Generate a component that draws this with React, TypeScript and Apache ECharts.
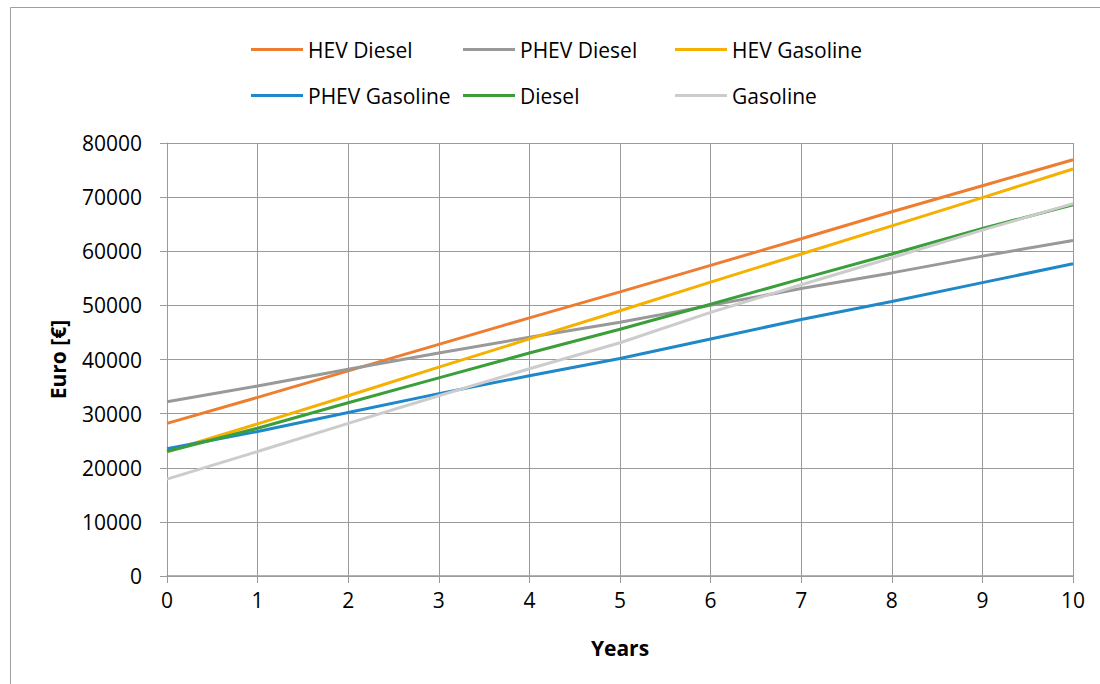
import React, { useEffect, useRef } from "react";
import * as echarts from "echarts";

const years = [0, 1, 2, 3, 4, 5, 6, 7, 8, 9, 10];
const hevDiesel = [28200, 33000, 37900, 42800, 47700, 52500, 57400, 62300, 67300, 72100, 76900];
const phevDiesel = [32200, 35100, 38200, 41200, 44100, 46900, 50000, 53100, 56000, 59100, 62000];
const hevGasoline = [23000, 28100, 33300, 38600, 43800, 49000, 54300, 59500, 64700, 69900, 75200];
const phevGasoline = [23500, 26700, 30200, 33700, 37000, 40200, 43800, 47400, 50700, 54200, 57700];
const diesel = [23000, 27300, 32000, 36600, 41200, 45600, 50200, 54900, 59500, 64200, 68600];
const gasoline = [17900, 23000, 28200, 33300, 38300, 43100, 48700, 53800, 58800, 63900, 68800];

const seriesNames = ["HEV Diesel", "PHEV Diesel", "HEV Gasoline", "PHEV Gasoline", "Diesel", "Gasoline"];
const seriesValues = [hevDiesel, phevDiesel, hevGasoline, phevGasoline, diesel, gasoline];
const seriesColors = ["#ED7D31", "#999999", "#F5B000", "#1E88C8", "#3A9E3A", "#CCCCCC"];
const legendPos = [
  [251, 39], [463, 39], [675, 39],
  [251, 85], [463, 85], [675, 85],
];

const FONT = "'Open Sans', 'Noto Sans', sans-serif";
const FS = 21;

export default function App() {
  const ref = useRef<HTMLDivElement>(null);
  useEffect(() => {
    if (!ref.current) return;
    const chart = echarts.init(ref.current, undefined, { renderer: "svg" });
    const gridColor = "#9A9A9A";
    chart.setOption({
      animation: false,
      backgroundColor: "#ffffff",
      textStyle: { fontFamily: FONT },
      graphic: [
        {
          type: "rect",
          shape: { x: 10.5, y: 7.5, width: 1200, height: 800 },
          style: { fill: "none", stroke: "#A0A0A0", lineWidth: 1 },
          silent: true,
        },
      ],
      legend: seriesNames.map((n, i) => ({
        data: [n],
        left: legendPos[i][0],
        top: legendPos[i][1],
        padding: 0,
        itemWidth: 52,
        itemHeight: 3,
        icon: "rect",
        textStyle: { fontSize: FS, color: "#000", fontFamily: FONT },
        selectedMode: false,
      })),
      grid: { left: 167, right: 27, top: 143, bottom: 108 },
      xAxis: {
        type: "value",
        min: 0,
        max: 10,
        interval: 1,
        name: "Years",
        nameLocation: "middle",
        nameGap: 61,
        nameTextStyle: { fontSize: FS, fontWeight: "bold", color: "#000", fontFamily: FONT },
        axisLine: { show: true, lineStyle: { color: gridColor, width: 1.5 } },
        axisTick: { show: true, length: 7, lineStyle: { color: gridColor } },
        axisLabel: { fontSize: FS, color: "#000", margin: 13, fontFamily: FONT },
        splitLine: { show: true, lineStyle: { color: gridColor, width: 1 } },
      },
      yAxis: {
        type: "value",
        min: 0,
        max: 80000,
        interval: 10000,
        name: "Euro [€]",
        nameLocation: "middle",
        nameGap: 99,
        nameRotate: 90,
        nameTextStyle: { fontSize: FS, fontWeight: "bold", color: "#000", fontFamily: FONT },
        axisLine: { show: true, lineStyle: { color: gridColor, width: 1 } },
        axisTick: { show: true, length: 7, lineStyle: { color: gridColor } },
        axisLabel: {
          fontSize: FS,
          color: "#000",
          margin: 25,
          fontFamily: FONT,
          formatter: (v: number) => String(v),
        },
        splitLine: { show: true, lineStyle: { color: gridColor, width: 1 } },
      },
      series: seriesNames.map((n, i) => ({
        name: n,
        type: "line",
        data: years.map((y, k) => [y, seriesValues[i][k]]),
        showSymbol: false,
        symbol: "none",
        color: seriesColors[i],
        lineStyle: { color: seriesColors[i], width: 3 },
      })),
    });
    return () => chart.dispose();
  }, []);
  return (
    <div
      ref={ref}
      style={{ position: "absolute", left: 0, top: 0, width: 1100, height: 684 }}
    />
  );
}
